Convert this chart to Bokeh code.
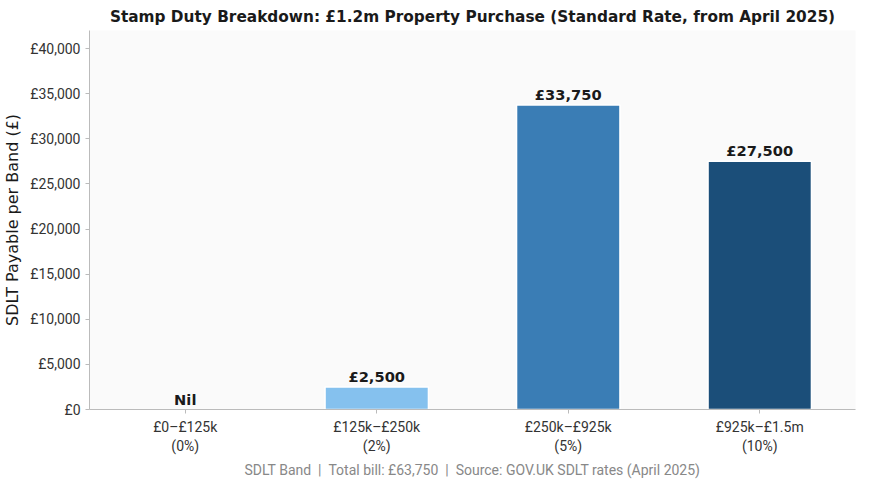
from bokeh.plotting import figure
from bokeh.models import ColumnDataSource, FixedTicker
from bokeh.embed import file_html
from bokeh.resources import INLINE
from bokeh.core.properties import value

bands = ["£0–£125k\n(0%)", "£125k–£250k\n(2%)", "£250k–£925k\n(5%)", "£925k–£1.5m\n(10%)"]
tax = [0, 2500, 33750, 27500]
labels = ["Nil", "£2,500", "£33,750", "£27,500"]
colors = ["#85c1ee", "#85c1ee", "#3a7db5", "#1b4e79"]
yticks = list(range(0, 40001, 5000))

src = ColumnDataSource(dict(x=bands, top=tax, lab=labels, c=colors))

p = figure(x_range=bands, y_range=(0, 42000), width=859, height=480,
           output_backend="svg", toolbar_location=None, min_border_top=8, min_border_right=4,
           title="Stamp Duty Breakdown: £1.2m Property Purchase (Standard Rate, from April 2025)")
p.vbar(x="x", top="top", width=0.54, source=src, fill_color="c", line_color="white", line_width=1.5)
p.text(x="x", y="top", text="lab", source=src, text_align="center", text_baseline="bottom",
       y_offset=-2, text_font=value("DejaVu Sans"), text_font_style="bold",
       text_font_size="11pt", text_color="#1a1a1a")

p.title.align = "center"
p.title.text_font = "DejaVu Sans"
p.title.text_font_size = "11.5pt"
p.title.text_font_style = "bold"
p.title.text_color = "#1a1a1a"
p.background_fill_color = "#fafafa"
p.border_fill_color = "white"
p.outline_line_color = None
p.xgrid.grid_line_color = None
p.ygrid.grid_line_color = None
p.yaxis.ticker = FixedTicker(ticks=yticks)
p.yaxis.major_label_overrides = {t: "£{:,}".format(t) for t in yticks}
p.yaxis.axis_label = "SDLT Payable per Band (£)"
p.yaxis.axis_label_text_font = "DejaVu Sans"
p.yaxis.axis_label_text_font_style = "normal"
p.yaxis.axis_label_text_font_size = "12pt"
p.yaxis.axis_label_text_color = "#1a1a1a"
p.xaxis.axis_label = "SDLT Band\u00a0\u00a0|\u00a0\u00a0Total bill: £63,750\u00a0\u00a0|\u00a0\u00a0Source: GOV.UK SDLT rates (April 2025)"
p.xaxis.axis_label_text_font = "Roboto"
p.xaxis.axis_label_text_font_style = "normal"
p.xaxis.axis_label_text_font_size = "10.5pt"
p.xaxis.axis_label_text_color = "#888888"
for ax in (p.xaxis, p.yaxis):
    ax.major_label_text_font = "Roboto"
    ax.major_label_text_font_size = "10.5pt"
    ax.major_label_text_color = "#333333"
    ax.axis_line_color = "#bbbbbb"
    ax.major_tick_line_color = "#bbbbbb"
    ax.minor_tick_line_color = None
    ax.major_tick_in = 0
    ax.major_tick_out = 4

open("out.html", "w").write(file_html(p, INLINE))
